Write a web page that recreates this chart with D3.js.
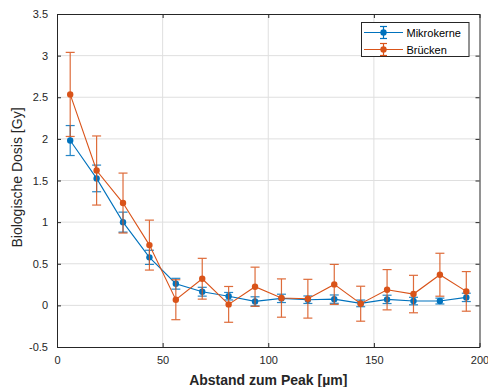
<!DOCTYPE html>
<html>
<head>
<meta charset="utf-8">
<script src="https://cdn.jsdelivr.net/npm/d3@7/dist/d3.min.js"></script>
<style>
  html, body { margin: 0; padding: 0; background: #fff; }
  svg { display: block; font-family: "Liberation Sans", Arial, sans-serif; }
</style>
</head>
<body>
<svg id="chart" width="488" height="387"></svg>
<script>
// Distance from the peak (µm)
const distances = [6.25, 18.75, 31.25, 43.75, 56.25, 68.75, 81.25, 93.75,
                   106.25, 118.75, 131.25, 143.75, 156.25, 168.75, 181.25, 193.75];

// Biological dose (Gy) and its uncertainty for micronuclei
const mikrokerneDose = [1.98, 1.525, 1.0, 0.577, 0.26, 0.164, 0.11, 0.048,
                        0.084, 0.068, 0.075, 0.024, 0.072, 0.052, 0.052, 0.096];
const mikrokerneErr  = [0.18, 0.16, 0.12, 0.085, 0.065, 0.053, 0.045, 0.055,
                        0.05, 0.045, 0.05, 0.04, 0.05, 0.045, 0.035, 0.05];

// Biological dose (Gy) and its uncertainty for bridges
const brueckenDose = [2.534, 1.62, 1.229, 0.724, 0.068, 0.32, 0.012, 0.224,
                      0.088, 0.08, 0.252, 0.02, 0.188, 0.136, 0.368, 0.168];
const brueckenErr  = [0.505, 0.415, 0.36, 0.30, 0.24, 0.245, 0.215, 0.235,
                      0.23, 0.233, 0.24, 0.21, 0.242, 0.225, 0.258, 0.238];

const xTicks = [0, 50, 100, 150, 200];
const yTicks = [-0.5, 0, 0.5, 1, 1.5, 2, 2.5, 3, 3.5];

const seriesNames = ["Mikrokerne", "Brücken"];
const seriesColors = ["#0072BD", "#D95319"];

const svg = d3.select("#chart");
const plotLeft = 57, plotRight = 479.5, plotTop = 14, plotBottom = 347;

const x = d3.scaleLinear().domain([0, 200]).range([plotLeft, plotRight]);
const y = d3.scaleLinear().domain([-0.5, 3.5]).range([plotBottom, plotTop]);

const axisColor = "#262626";
const gridColor = "#dfdfdf";

// Grid lines
const grid = svg.append("g");
grid.selectAll(".gx").data(xTicks.slice(1, -1)).enter().append("line")
  .attr("x1", d => x(d)).attr("x2", d => x(d))
  .attr("y1", plotTop).attr("y2", plotBottom)
  .attr("stroke", gridColor).attr("stroke-width", 1);
grid.selectAll(".gy").data(yTicks.slice(1, -1)).enter().append("line")
  .attr("y1", d => y(d)).attr("y2", d => y(d))
  .attr("x1", plotLeft).attr("x2", plotRight)
  .attr("stroke", gridColor).attr("stroke-width", 1);

// Axes with inward ticks on all four sides
const tickLen = 4;
function styleAxis(g) {
  g.select(".domain").attr("stroke", axisColor).attr("stroke-width", 1);
  g.selectAll(".tick line").attr("stroke", axisColor);
  g.selectAll(".tick text").attr("fill", axisColor).style("font-size", "11px")
    .style("font-family", "'Liberation Sans', Arial, sans-serif");
}
const xAxis = svg.append("g").attr("transform", `translate(0,${plotBottom})`)
  .call(d3.axisBottom(x).tickValues(xTicks).tickSizeInner(-tickLen).tickSizeOuter(0).tickPadding(9));
styleAxis(xAxis);
const xAxisTop = svg.append("g").attr("transform", `translate(0,${plotTop})`)
  .call(d3.axisTop(x).tickValues(xTicks).tickSizeInner(-tickLen).tickSizeOuter(0).tickFormat(""));
styleAxis(xAxisTop);
const yAxis = svg.append("g").attr("transform", `translate(${plotLeft},0)`)
  .call(d3.axisLeft(y).tickValues(yTicks).tickSizeInner(-tickLen).tickSizeOuter(0).tickPadding(9)
    .tickFormat(d => String(d)));
styleAxis(yAxis);
const yAxisRight = svg.append("g").attr("transform", `translate(${plotRight},0)`)
  .call(d3.axisRight(y).tickValues(yTicks).tickSizeInner(-tickLen).tickSizeOuter(0).tickFormat(""));
styleAxis(yAxisRight);

// Axis titles
svg.append("text")
  .attr("x", (plotLeft + plotRight) / 2).attr("y", 385)
  .attr("text-anchor", "middle")
  .attr("fill", axisColor)
  .style("font-size", "14px").style("font-weight", "bold")
  .text("Abstand zum Peak [µm]");
svg.append("text")
  .attr("transform", `translate(22,${(plotTop + plotBottom) / 2 - 3}) rotate(-90)`)
  .attr("text-anchor", "middle")
  .attr("fill", axisColor)
  .style("font-size", "14px")
  .text("Biologische Dosis [Gy]");

// Series with error bars
const series = [
  { name: seriesNames[0], color: seriesColors[0], values: mikrokerneDose, errs: mikrokerneErr },
  { name: seriesNames[1], color: seriesColors[1], values: brueckenDose, errs: brueckenErr }
];
const capHalf = 4.5;
const plot = svg.append("g");

series.forEach(s => {
  const pts = distances.map((d, i) => ({ x: d, y: s.values[i], e: s.errs[i] }));
  const g = plot.append("g");
  const eb = g.selectAll(".eb").data(pts).enter().append("g").attr("opacity", 0.85);
  eb.append("line")
    .attr("x1", d => x(d.x)).attr("x2", d => x(d.x))
    .attr("y1", d => y(d.y - d.e)).attr("y2", d => y(d.y + d.e))
    .attr("stroke", s.color).attr("stroke-width", 1.2);
  eb.append("line")
    .attr("x1", d => x(d.x) - capHalf).attr("x2", d => x(d.x) + capHalf)
    .attr("y1", d => y(d.y + d.e)).attr("y2", d => y(d.y + d.e))
    .attr("stroke", s.color).attr("stroke-width", 1.2);
  eb.append("line")
    .attr("x1", d => x(d.x) - capHalf).attr("x2", d => x(d.x) + capHalf)
    .attr("y1", d => y(d.y - d.e)).attr("y2", d => y(d.y - d.e))
    .attr("stroke", s.color).attr("stroke-width", 1.2);
  g.append("path")
    .datum(pts)
    .attr("fill", "none")
    .attr("stroke", s.color)
    .attr("stroke-width", 1.1)
    .attr("d", d3.line().x(d => x(d.x)).y(d => y(d.y)));
  g.selectAll("circle").data(pts).enter().append("circle")
    .attr("cx", d => x(d.x)).attr("cy", d => y(d.y)).attr("r", 3.2)
    .attr("fill", s.color);
});

// Legend
const lg = svg.append("g");
lg.append("rect")
  .attr("x", 361.5).attr("y", 22.5).attr("width", 107.5).attr("height", 34)
  .attr("fill", "#fff").attr("stroke", axisColor).attr("stroke-width", 1);
series.forEach((s, i) => {
  const cy = 32.5 + i * 17;
  const row = lg.append("g");
  row.append("line").attr("x1", 364).attr("x2", 403).attr("y1", cy).attr("y2", cy)
    .attr("stroke", s.color).attr("stroke-width", 1.1);
  row.append("line").attr("x1", 383.5).attr("x2", 383.5).attr("y1", cy - 6).attr("y2", cy + 6)
    .attr("stroke", s.color).attr("stroke-width", 1.2);
  [cy - 6, cy + 6].forEach(cyy => {
    row.append("line").attr("x1", 380).attr("x2", 387).attr("y1", cyy).attr("y2", cyy)
      .attr("stroke", s.color).attr("stroke-width", 1.2);
  });
  row.append("circle").attr("cx", 383.5).attr("cy", cy).attr("r", 3.2).attr("fill", s.color);
  row.append("text").attr("x", 406.5).attr("y", cy + 4)
    .attr("fill", "#000").style("font-size", "11px")
    .text(s.name);
});
</script>
</body>
</html>
